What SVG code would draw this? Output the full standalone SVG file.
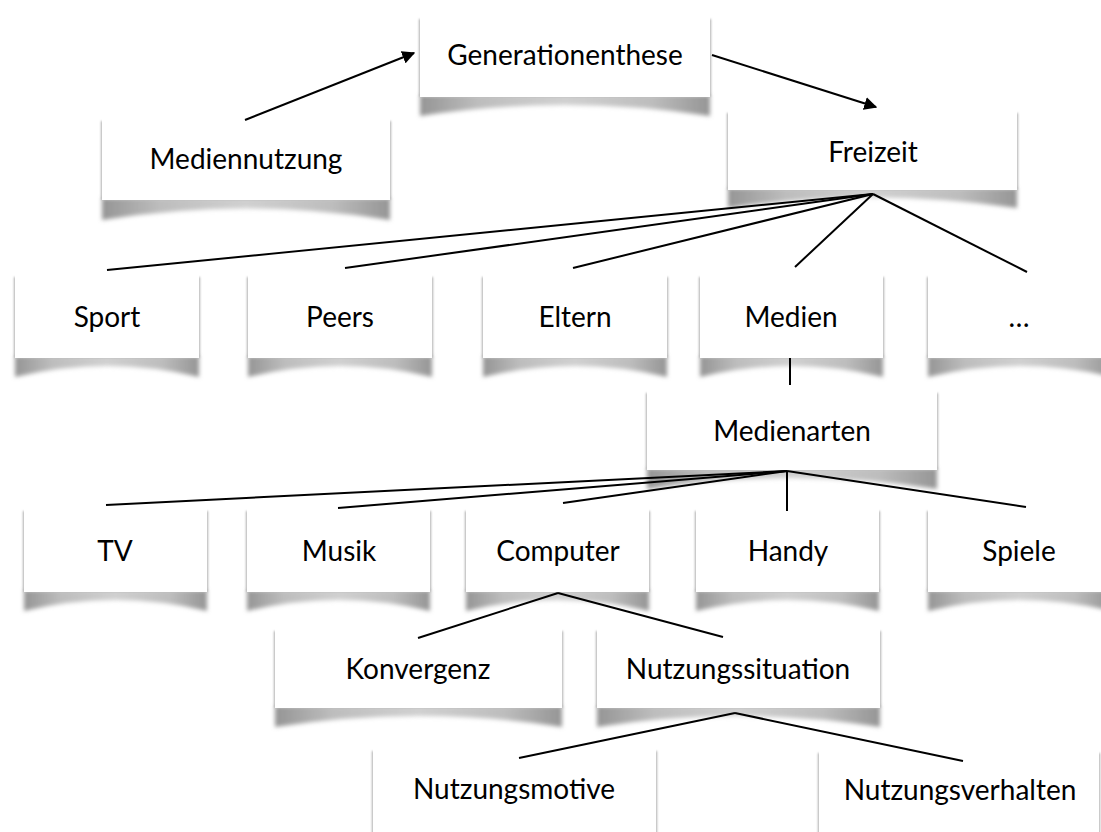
<svg xmlns="http://www.w3.org/2000/svg" width="1101" height="832" viewBox="0 0 1101 832">
<style>
.box{fill:#fff;}
.side{fill:#b0b0b0;filter:url(#sb);}
.sh{fill:url(#sg);filter:url(#bl);}
.t{font-family:Lato,"Open Sans","DejaVu Sans",sans-serif;font-size:28px;fill:#000;text-anchor:middle;}
.c{stroke:#000;stroke-width:2;fill:none;}
</style>
<defs>
<linearGradient id="sg" x1="0" y1="0" x2="1" y2="0">
<stop offset="0" stop-color="#959595"/>
<stop offset="0.2" stop-color="#bdbdbd"/>
<stop offset="0.5" stop-color="#d0d0d0"/>
<stop offset="0.8" stop-color="#bdbdbd"/>
<stop offset="1" stop-color="#959595"/>
</linearGradient>
<filter id="bl" x="-10%" y="-50%" width="120%" height="200%"><feGaussianBlur stdDeviation="2"/></filter>
<filter id="sb" x="-10%" y="-10%" width="120%" height="120%"><feGaussianBlur stdDeviation="1.2"/></filter>
<marker id="ah" viewBox="0 0 10 10" refX="9" refY="5" markerWidth="6.5" markerHeight="6.5" orient="auto" markerUnits="strokeWidth">
<path d="M0,0 L10,5 L0,10 Z" fill="#000"/>
</marker>
</defs>
<rect width="1101" height="832" fill="#fff"/>

<g id="n-generationenthese">
<path class="sh" d="M420,95 L710,95 L710,116 Q565,94 420,116 Z"/>
<rect class="side" x="419" y="19" width="292" height="78"/>
<rect class="box" x="420" y="13" width="290" height="84"/>
<text class="t" x="565" y="65">Generationenthese</text>
</g>
<g id="n-mediennutzung">
<path class="sh" d="M102,198 L390,198 L390,220 Q246,197 102,220 Z"/>
<rect class="side" x="101" y="121" width="290" height="79"/>
<rect class="box" x="102" y="115" width="288" height="85"/>
<text class="t" x="246" y="169">Mediennutzung</text>
</g>
<g id="n-freizeit">
<path class="sh" d="M728,188 L1017,188 L1017,208 Q873,187 728,208 Z"/>
<rect class="side" x="727" y="113" width="291" height="77"/>
<rect class="box" x="728" y="107" width="289" height="83"/>
<text class="t" x="873" y="162">Freizeit</text>
</g>

<g id="n-sport">
<path class="sh" d="M15,356 L199,356 L199,377 Q107,355 15,377 Z"/>
<rect class="side" x="14" y="277" width="186" height="81"/>
<rect class="box" x="15" y="271" width="184" height="87"/>
<text class="t" x="107" y="327">Sport</text>
</g>
<g id="n-peers">
<path class="sh" d="M248,356 L432,356 L432,377 Q340,355 248,377 Z"/>
<rect class="side" x="247" y="277" width="186" height="81"/>
<rect class="box" x="248" y="271" width="184" height="87"/>
<text class="t" x="340" y="327">Peers</text>
</g>
<g id="n-eltern">
<path class="sh" d="M483,356 L667,356 L667,377 Q575,355 483,377 Z"/>
<rect class="side" x="482" y="277" width="186" height="81"/>
<rect class="box" x="483" y="271" width="184" height="87"/>
<text class="t" x="575" y="327">Eltern</text>
</g>
<g id="n-medien">
<path class="sh" d="M700,356 L883,356 L883,377 Q791,355 700,377 Z"/>
<rect class="side" x="699" y="277" width="185" height="81"/>
<rect class="box" x="700" y="271" width="183" height="87"/>
<text class="t" x="791" y="327">Medien</text>
</g>
<g id="n-etc">
<path class="sh" d="M928,356 L1112,356 L1112,377 Q1020,355 928,377 Z"/>
<rect class="side" x="927" y="277" width="186" height="81"/>
<rect class="box" x="928" y="271" width="184" height="87"/>
<text class="t" x="1019" y="327">…</text>
</g>

<g id="n-medienarten">
<path class="sh" d="M647,468 L937,468 L937,489 Q792,467 647,489 Z"/>
<rect class="side" x="646" y="393" width="292" height="77"/>
<rect class="box" x="647" y="387" width="290" height="83"/>
<text class="t" x="792" y="441">Medienarten</text>
</g>

<g id="n-tv">
<path class="sh" d="M24,590 L207,590 L207,611 Q115,589 24,611 Z"/>
<rect class="side" x="23" y="511" width="185" height="81"/>
<rect class="box" x="24" y="505" width="183" height="87"/>
<text class="t" x="115" y="561">TV</text>
</g>
<g id="n-musik">
<path class="sh" d="M247,590 L430,590 L430,611 Q339,589 247,611 Z"/>
<rect class="side" x="246" y="511" width="185" height="81"/>
<rect class="box" x="247" y="505" width="183" height="87"/>
<text class="t" x="339" y="561">Musik</text>
</g>
<g id="n-computer">
<path class="sh" d="M466,590 L649,590 L649,611 Q558,589 466,611 Z"/>
<rect class="side" x="465" y="511" width="185" height="81"/>
<rect class="box" x="466" y="505" width="183" height="87"/>
<text class="t" x="558" y="561">Computer</text>
</g>
<g id="n-handy">
<path class="sh" d="M696,590 L879,590 L879,611 Q788,589 696,611 Z"/>
<rect class="side" x="695" y="511" width="185" height="81"/>
<rect class="box" x="696" y="505" width="183" height="87"/>
<text class="t" x="788" y="561">Handy</text>
</g>
<g id="n-spiele">
<path class="sh" d="M928,590 L1111,590 L1111,611 Q1020,589 928,611 Z"/>
<rect class="side" x="927" y="511" width="185" height="81"/>
<rect class="box" x="928" y="505" width="183" height="87"/>
<text class="t" x="1019" y="561">Spiele</text>
</g>

<g id="n-konvergenz">
<path class="sh" d="M275,706 L562,706 L562,727 Q418,705 275,727 Z"/>
<rect class="side" x="274" y="631" width="289" height="77"/>
<rect class="box" x="275" y="625" width="287" height="83"/>
<text class="t" x="418" y="679">Konvergenz</text>
</g>
<g id="n-nutzungssituation">
<path class="sh" d="M597,706 L880,706 L880,727 Q738,705 597,727 Z"/>
<rect class="side" x="596" y="631" width="285" height="77"/>
<rect class="box" x="597" y="625" width="283" height="83"/>
<text class="t" x="738" y="679">Nutzungssituation</text>
</g>

<g id="n-nutzungsmotive">
<rect class="side" x="372" y="751" width="285" height="90"/>
<rect class="box" x="373" y="745" width="283" height="90"/>
<text class="t" x="514" y="799">Nutzungsmotive</text>
</g>
<g id="n-nutzungsverhalten">
<rect class="side" x="818" y="753" width="282" height="90"/>
<rect class="box" x="819" y="747" width="280" height="90"/>
<text class="t" x="960" y="800">Nutzungsverhalten</text>
</g>

<g id="connectors" class="c">
<line x1="245" y1="120" x2="414" y2="53" marker-end="url(#ah)"/>
<line x1="712" y1="55" x2="876" y2="107" marker-end="url(#ah)"/>
<line x1="873" y1="194" x2="107" y2="270"/>
<line x1="873" y1="194" x2="345" y2="268"/>
<line x1="873" y1="194" x2="573" y2="268"/>
<line x1="873" y1="194" x2="795" y2="267"/>
<line x1="873" y1="194" x2="1027" y2="272"/>
<line x1="790" y1="358" x2="790" y2="385"/>
<line x1="787" y1="471" x2="106" y2="505"/>
<line x1="787" y1="471" x2="338" y2="508"/>
<line x1="787" y1="471" x2="563" y2="503"/>
<line x1="787" y1="471" x2="787" y2="511"/>
<line x1="787" y1="471" x2="1026" y2="507"/>
<line x1="558" y1="593" x2="418" y2="638"/>
<line x1="558" y1="593" x2="723" y2="637"/>
<line x1="735" y1="713" x2="519" y2="758"/>
<line x1="735" y1="713" x2="963" y2="761"/>
</g>
</svg>
